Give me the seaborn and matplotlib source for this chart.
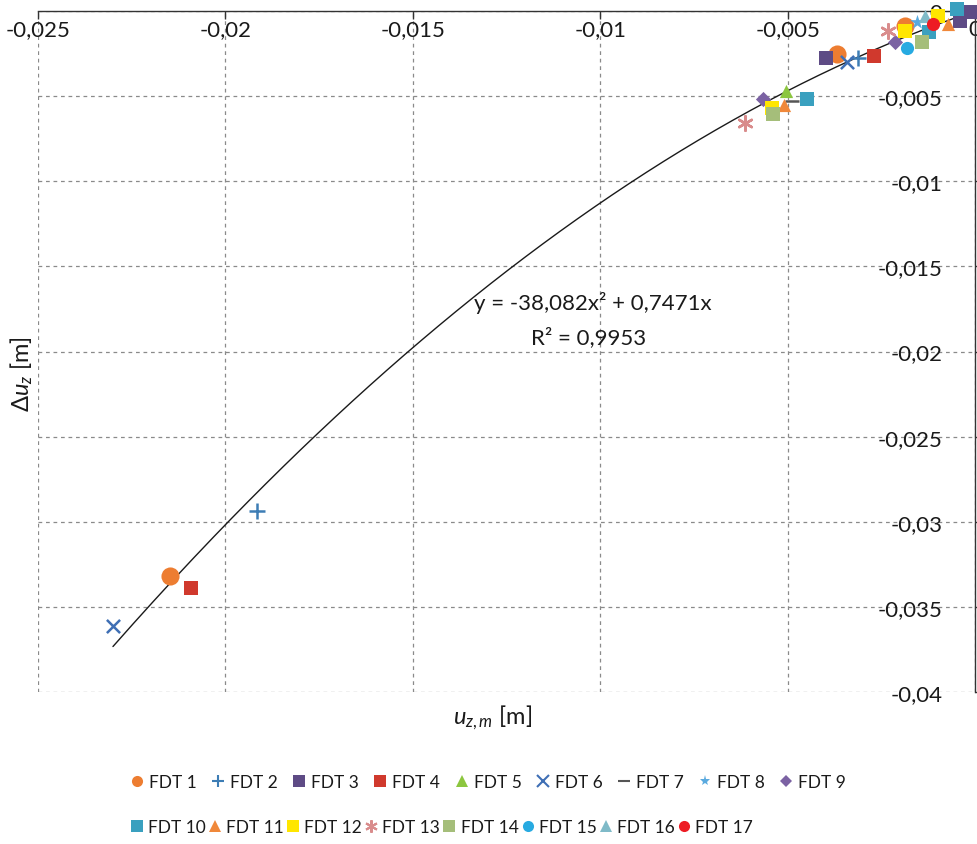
import numpy as np
import pandas as pd
import seaborn as sns
import matplotlib
matplotlib.use("Agg")
import matplotlib.pyplot as plt
from matplotlib.lines import Line2D

# ---------------- data ----------------
series_names = ["FDT 1", "FDT 2", "FDT 3", "FDT 4", "FDT 5", "FDT 6", "FDT 7", "FDT 8", "FDT 9",
                "FDT 10", "FDT 11", "FDT 12", "FDT 13", "FDT 14", "FDT 15", "FDT 16", "FDT 17"]

fdt1_x = [-0.02149, -0.00367, -0.00187]
fdt1_y = [-0.03318, -0.00253, -0.00088]
fdt2_x = [-0.01915, -0.00312]
fdt2_y = [-0.02935, -0.00276]
fdt3_x = [-0.00397, -0.00040, -0.00013]
fdt3_y = [-0.00278, -0.00057, -0.00008]
fdt4_x = [-0.02093, -0.00269]
fdt4_y = [-0.03388, -0.00265]
fdt5_x = [-0.00504]
fdt5_y = [-0.00469]
fdt6_x = [-0.02301, -0.00342]
fdt6_y = [-0.03612, -0.00302]
fdt7_x = [-0.00489]
fdt7_y = [-0.00527]
fdt8_x = [-0.00156]
fdt8_y = [-0.00067]
fdt9_x = [-0.00566, -0.00213]
fdt9_y = [-0.00518, -0.00184]
fdt10_x = [-0.00449, -0.00124, -0.00048]
fdt10_y = [-0.00518, -0.00126, 0.00010]
fdt11_x = [-0.00509, -0.00072]
fdt11_y = [-0.00553, -0.00077]
fdt12_x = [-0.00542, -0.00187, -0.00099]
fdt12_y = [-0.00567, -0.00116, -0.00028]
fdt13_x = [-0.00613, -0.00231]
fdt13_y = [-0.00655, -0.00116]
fdt14_x = [-0.00540, -0.00142]
fdt14_y = [-0.00606, -0.00184]
fdt15_x = [-0.00182]
fdt15_y = [-0.00220]
fdt16_x = [-0.00133]
fdt16_y = [-0.00030]
fdt17_x = [-0.00111]
fdt17_y = [-0.00077]

series_x = [fdt1_x, fdt2_x, fdt3_x, fdt4_x, fdt5_x, fdt6_x, fdt7_x, fdt8_x, fdt9_x,
            fdt10_x, fdt11_x, fdt12_x, fdt13_x, fdt14_x, fdt15_x, fdt16_x, fdt17_x]
series_y = [fdt1_y, fdt2_y, fdt3_y, fdt4_y, fdt5_y, fdt6_y, fdt7_y, fdt8_y, fdt9_y,
            fdt10_y, fdt11_y, fdt12_y, fdt13_y, fdt14_y, fdt15_y, fdt16_y, fdt17_y]

# trendline y = a*x^2 + b*x (as printed on chart)
trend_a = -38.082
trend_b = 0.7471
trend_x_range = [-0.0230, 0.0]
trend_label = "y = -38,082x\u00b2 + 0,7471x"
r2_label = "R\u00b2 = 0,9953"

x_ticks = [-0.025, -0.02, -0.015, -0.01, -0.005, 0.0]
x_tick_labels = ["-0,025", "-0,02", "-0,015", "-0,01", "-0,005", "0"]
y_ticks = [0.0, -0.005, -0.01, -0.015, -0.02, -0.025, -0.03, -0.035, -0.04]
y_tick_labels = ["0", "-0,005", "-0,01", "-0,015", "-0,02", "-0,025", "-0,03", "-0,035", "-0,04"]

# ---------------- styles ----------------
colors = ["#ED7D31", "#3D7DB5", "#5E4B85", "#D0392D", "#8CC63F", "#3F6FB5", "#555555",
          "#5AAADF", "#7B62A3", "#3AA0BF", "#F0883A", "#FFE600", "#D98C8C", "#A5BE7A",
          "#27AAE1", "#7FBAC8", "#ED1C24"]
markers = ["o", "+", "s", "s", "^", "x", "_", "*", "D", "s", "^", "s", (6, 2, 0), "s", "o", "^", "o"]
sizes = [170, 120, 90, 90, 90, 90, 90, 120, 60, 90, 90, 90, 110, 90, 90, 90, 90]
unfilled = {"+", "x", "_", (6, 2, 0)}

sns.set_theme(style="white")
plt.rcParams["font.family"] = ["Lato", "DejaVu Sans"]
plt.rcParams["mathtext.fontset"] = "custom"
plt.rcParams["mathtext.rm"] = "Lato"
plt.rcParams["mathtext.it"] = "Lato:italic"

fig = plt.figure(figsize=(9.77, 8.45), dpi=100)
W, H = 977, 845
ax = fig.add_axes([38 / W, (H - 693) / H, (975 - 38) / W, (693 - 12) / H])

# trendline
tx = np.linspace(trend_x_range[0], trend_x_range[1], 300)
trend_df = pd.DataFrame({"x": tx, "y": trend_a * tx ** 2 + trend_b * tx})
sns.lineplot(data=trend_df, x="x", y="y", ax=ax, color="#1a1a1a", linewidth=1.0,
             sort=False, estimator=None, zorder=2)

handles = []
for name, xs, ys, c, m, s in zip(series_names, series_x, series_y, colors, markers, sizes):
    df = pd.DataFrame({"x": xs, "y": ys})
    if m in unfilled:
        sns.scatterplot(data=df, x="x", y="y", ax=ax, marker=m, color=c, s=s,
                        linewidth=1.8, legend=False, zorder=3, clip_on=False)
        h = Line2D([], [], linestyle="none", marker=m, color=c, markersize=9,
                   markeredgewidth=1.5)
    else:
        sns.scatterplot(data=df, x="x", y="y", ax=ax, marker=m, color=c, s=s,
                        linewidth=0, legend=False, zorder=3, clip_on=False)
        h = Line2D([], [], linestyle="none", marker=m, color=c, markeredgewidth=0,
                   markersize=8 if m != "D" else 6.5)
    handles.append(h)

ax.set_xlim(-0.025, 0.0)
ax.set_ylim(-0.04, 0.0)
ax.set_xticks(x_ticks)
ax.set_xticklabels(x_tick_labels)
ax.set_yticks(y_ticks)
ax.set_yticklabels(y_tick_labels)

ax.grid(True, color="#8a8a8a", linestyle=(0, (3, 3)), linewidth=0.9)
for sp in ["left", "bottom"]:
    ax.spines[sp].set_visible(False)
for sp in ["top", "right"]:
    ax.spines[sp].set_visible(True)
    ax.spines[sp].set_color("#333333")
    ax.spines[sp].set_linewidth(1.0)

ax.xaxis.set_ticks_position("top")
ax.tick_params(axis="x", direction="in", length=6, width=1, color="#333333",
               labelsize=16, labelcolor="#1a1a1a", pad=-6, top=True, bottom=False,
               labeltop=True, labelbottom=False)
ax.yaxis.set_ticks_position("right")
ax.tick_params(axis="y", direction="out", length=5, width=1, color="#333333",
               labelsize=16, labelcolor="#1a1a1a", pad=-28.5, right=True, left=False,
               labelright=True, labelleft=False)
plt.setp(ax.get_xticklabels(), va="top")
plt.setp(ax.get_yticklabels(), ha="right")

ax.set_xlabel("")
ax.set_ylabel("")
fig.text(493 / W, 1 - 718 / H, r"$u_{z,m}$ [m]", ha="center", va="center",
         fontsize=17, color="#1a1a1a")
fig.text(22 / W, 1 - 374 / H, r"$\mathit{\Delta u_z}$ [m]", ha="center", va="center",
         rotation=90, fontsize=17, color="#1a1a1a")

ax.text(-0.0102, -0.0171, trend_label, ha="center", va="center", fontsize=16, color="#1a1a1a")
ax.text(-0.0103, -0.0191, r2_label, ha="center", va="center", fontsize=16, color="#1a1a1a")

leg1 = fig.legend(handles[:9], series_names[:9], ncol=9, loc="center left",
                  bbox_to_anchor=(130 / W, 1 - 783 / H), frameon=False, fontsize=12.5,
                  handlelength=0.8, handletextpad=0.3, columnspacing=0.82,
                  borderaxespad=0, borderpad=0)
leg2 = fig.legend(handles[9:], series_names[9:], ncol=8, loc="center left",
                  bbox_to_anchor=(130 / W, 1 - 828 / H), frameon=False, fontsize=12.5,
                  handlelength=0.8, handletextpad=0.25, columnspacing=0.12,
                  borderaxespad=0, borderpad=0)
for lg in (leg1, leg2):
    for t in lg.get_texts():
        t.set_color("#1a1a1a")

fig.savefig("out.png", dpi=100, facecolor="white")
